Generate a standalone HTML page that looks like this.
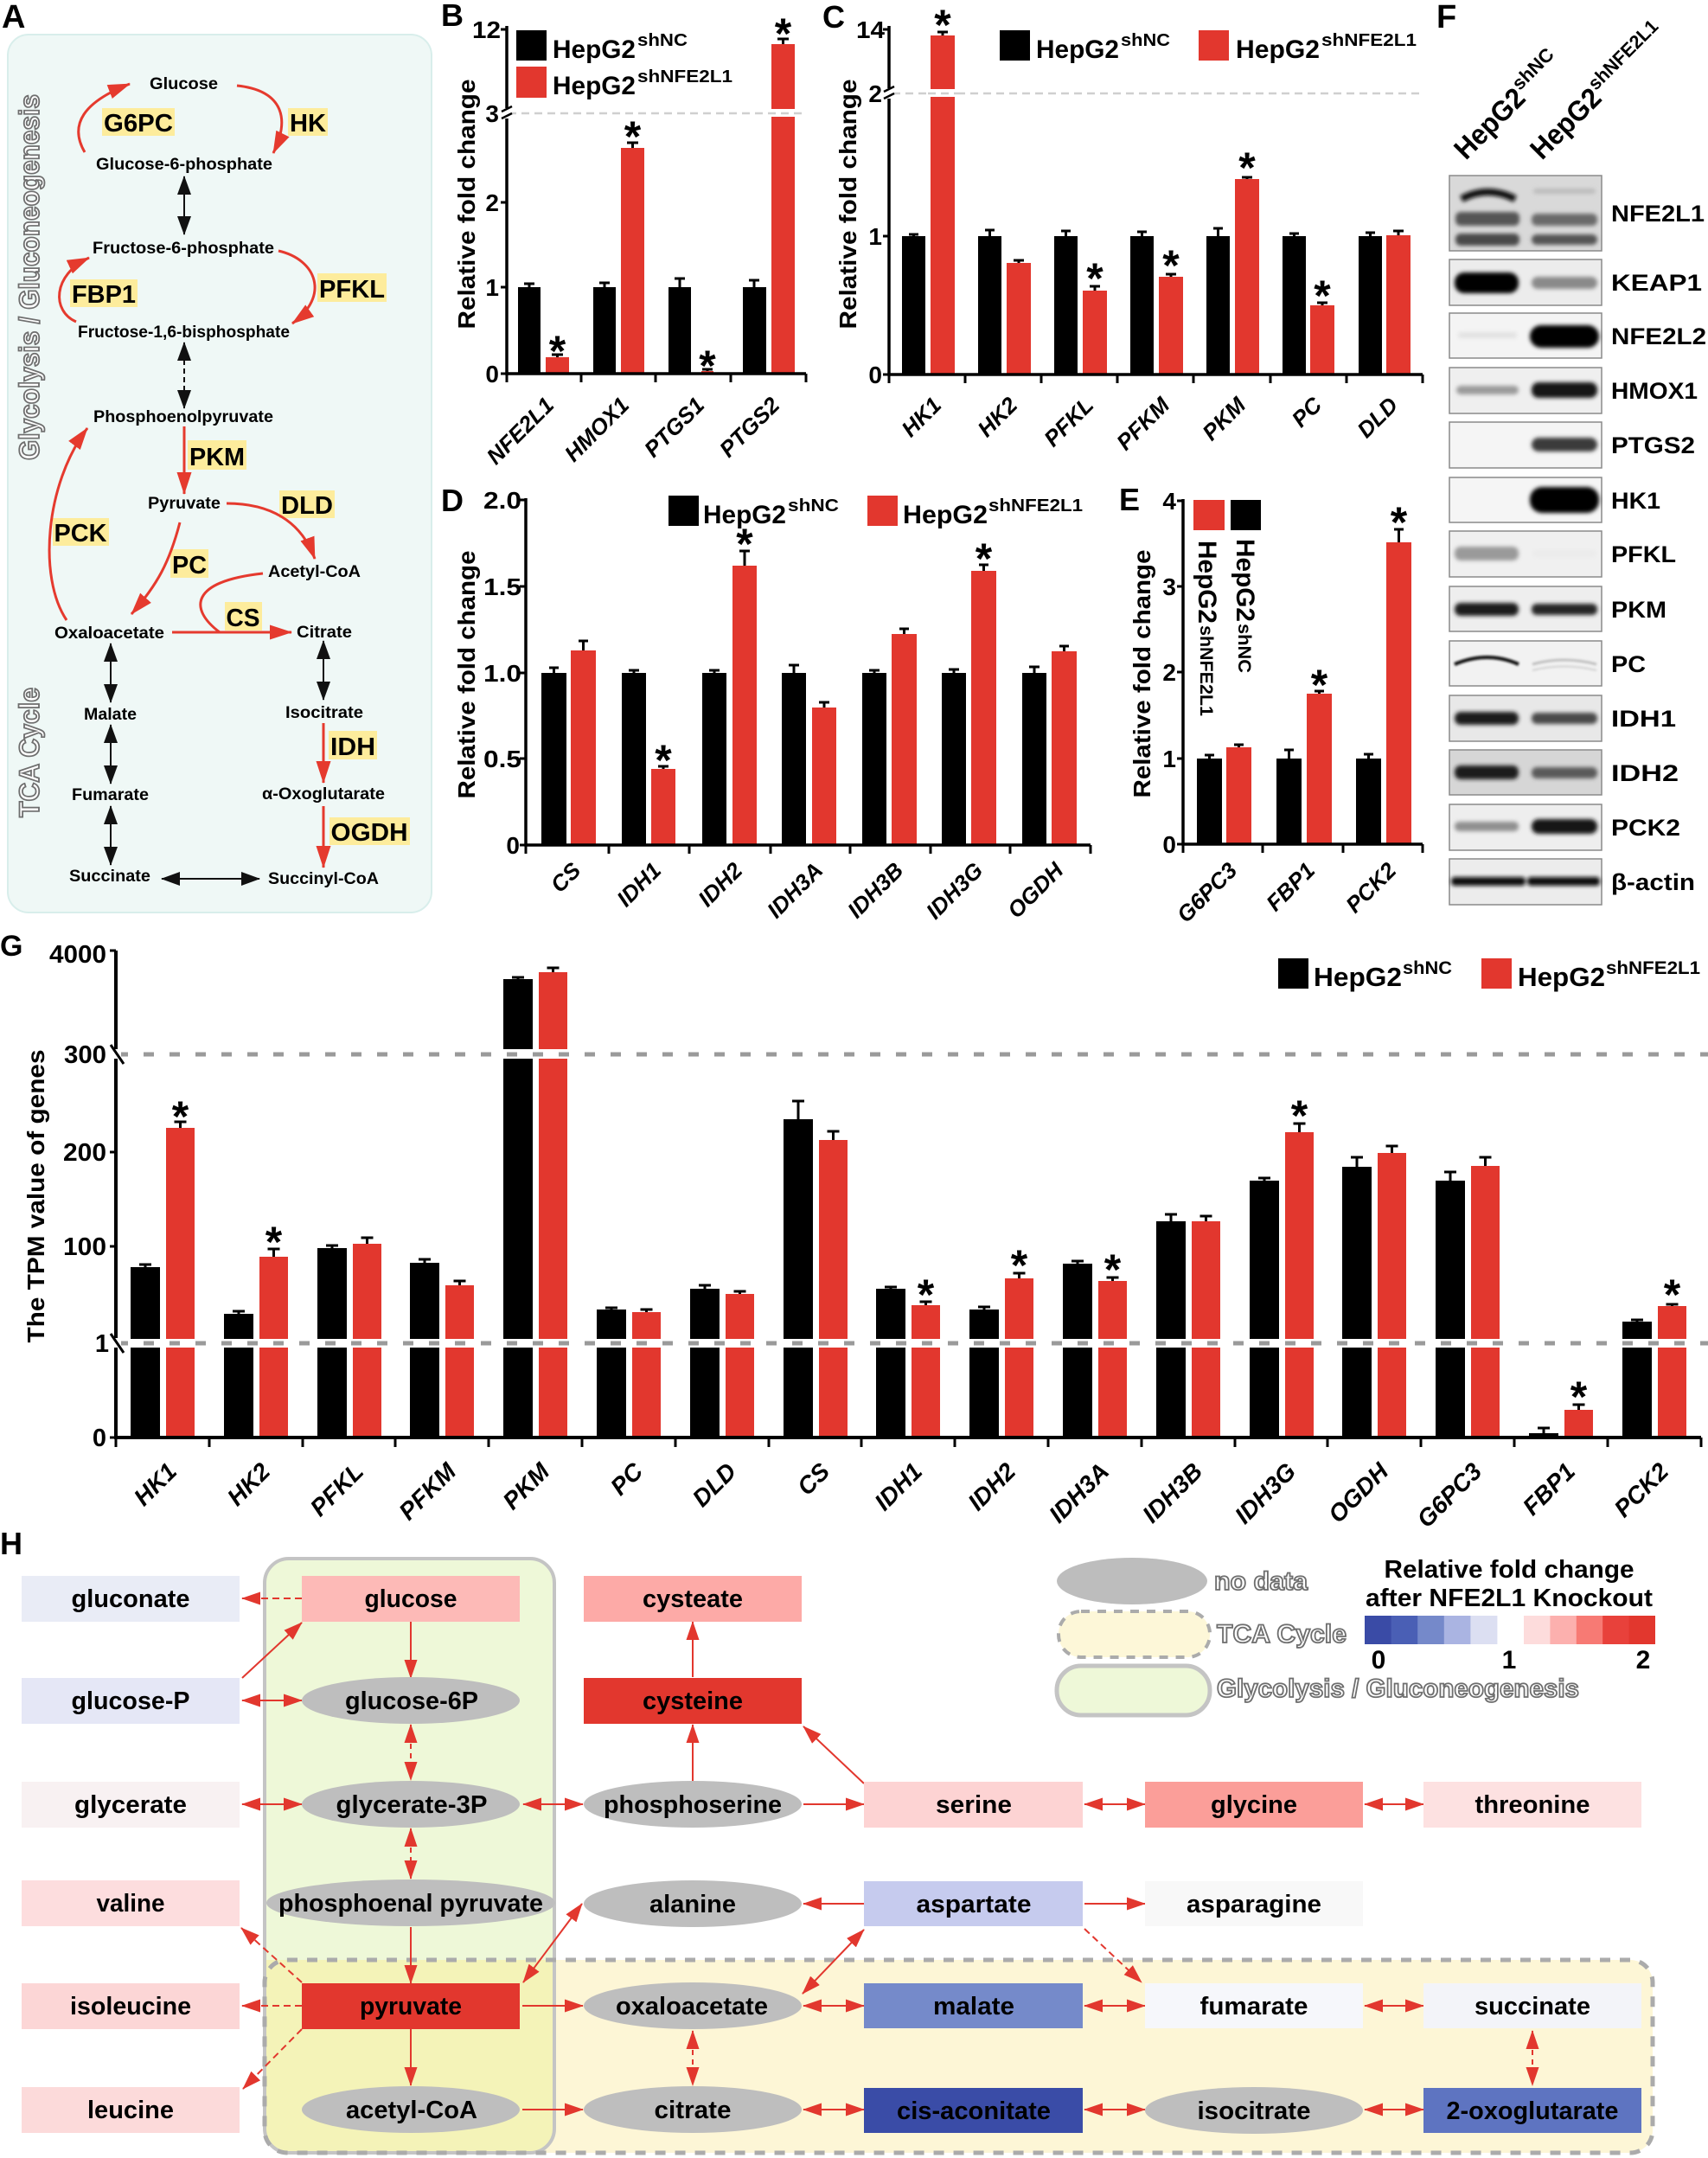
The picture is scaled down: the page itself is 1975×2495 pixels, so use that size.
<!DOCTYPE html>
<html><head><meta charset="utf-8">
<style>
html,body{margin:0;padding:0;background:#fff;}
svg{display:block;}
text{font-family:"Liberation Sans",Arial,sans-serif;font-weight:bold;fill:#000;}
.it{font-style:italic;}
.ol{fill:#fff;stroke:#6e6e6e;stroke-width:1.8;}
</style></head><body>
<svg width="1975" height="2495" viewBox="0 0 1975 2495" xmlns="http://www.w3.org/2000/svg">
<defs>
<marker id="hr" viewBox="0 0 22 15" refX="21" refY="7.5" markerWidth="22" markerHeight="15" markerUnits="userSpaceOnUse" orient="auto-start-reverse"><path d="M0,0 L22,7.5 L0,15 z" fill="#e2372e"/></marker>
<marker id="ar" viewBox="0 0 26 17" refX="25" refY="8.5" markerWidth="26" markerHeight="17" markerUnits="userSpaceOnUse" orient="auto-start-reverse"><path d="M0,0 L26,8.5 L0,17 z" fill="#e53a2e"/></marker>
<marker id="ab" viewBox="0 0 22 16" refX="21" refY="8" markerWidth="22" markerHeight="16" markerUnits="userSpaceOnUse" orient="auto-start-reverse"><path d="M0,0 L22,8 L0,16 z" fill="#111"/></marker>
<filter id="bl" x="-20%" y="-80%" width="140%" height="260%"><feGaussianBlur stdDeviation="2.5"/></filter>
<filter id="bl2" x="-20%" y="-80%" width="140%" height="260%"><feGaussianBlur stdDeviation="1.2"/></filter>
</defs>
<rect width="1975" height="2495" fill="#fff"/>

<!-- ================= PANEL A ================= -->
<rect x="9" y="40" width="490" height="1015" rx="24" fill="#eff8f6" stroke="#d8eeeb" stroke-width="2"/>
<text x="2" y="32" font-size="38">A</text>
<text class="ol" transform="translate(45,532) rotate(-90)" font-size="32" textLength="423" lengthAdjust="spacingAndGlyphs">Glycolysis / Gluconeogenesis</text>
<text class="ol" transform="translate(45,945) rotate(-90)" font-size="32" textLength="150" lengthAdjust="spacingAndGlyphs">TCA Cycle</text>

<g font-size="19">
<text x="173" y="103" textLength="79" lengthAdjust="spacingAndGlyphs">Glucose</text>
<text x="111" y="196" textLength="204" lengthAdjust="spacingAndGlyphs">Glucose-6-phosphate</text>
<text x="107" y="293" textLength="210" lengthAdjust="spacingAndGlyphs">Fructose-6-phosphate</text>
<text x="90" y="390" textLength="245" lengthAdjust="spacingAndGlyphs">Fructose-1,6-bisphosphate</text>
<text x="108" y="488" textLength="208" lengthAdjust="spacingAndGlyphs">Phosphoenolpyruvate</text>
<text x="171" y="588" textLength="84" lengthAdjust="spacingAndGlyphs">Pyruvate</text>
<text x="310" y="667" textLength="107" lengthAdjust="spacingAndGlyphs">Acetyl-CoA</text>
<text x="63" y="738" textLength="127" lengthAdjust="spacingAndGlyphs">Oxaloacetate</text>
<text x="343" y="737" textLength="64" lengthAdjust="spacingAndGlyphs">Citrate</text>
<text x="97" y="832" textLength="61" lengthAdjust="spacingAndGlyphs">Malate</text>
<text x="330" y="830" textLength="90" lengthAdjust="spacingAndGlyphs">Isocitrate</text>
<text x="83" y="925" textLength="89" lengthAdjust="spacingAndGlyphs">Fumarate</text>
<text x="303" y="924" textLength="142" lengthAdjust="spacingAndGlyphs">α-Oxoglutarate</text>
<text x="80" y="1019" textLength="94" lengthAdjust="spacingAndGlyphs">Succinate</text>
<text x="310" y="1022" textLength="128" lengthAdjust="spacingAndGlyphs">Succinyl-CoA</text>
</g>

<g fill="#fdec9c">
<rect x="118" y="125" width="84" height="32"/>
<rect x="333" y="125" width="46" height="32"/>
<rect x="81" y="323" width="78" height="32"/>
<rect x="367" y="316" width="80" height="33"/>
<rect x="217" y="509" width="68" height="34"/>
<rect x="323" y="567" width="64" height="32"/>
<rect x="61" y="599" width="65" height="32"/>
<rect x="197" y="635" width="44" height="33"/>
<rect x="260" y="696" width="43" height="33"/>
<rect x="380" y="845" width="56" height="33"/>
<rect x="381" y="945" width="93" height="32"/>
</g>
<g font-size="29">
<text x="160" y="152" text-anchor="middle" textLength="80" lengthAdjust="spacingAndGlyphs">G6PC</text>
<text x="356" y="152" text-anchor="middle" textLength="42" lengthAdjust="spacingAndGlyphs">HK</text>
<text x="120" y="350" text-anchor="middle" textLength="74" lengthAdjust="spacingAndGlyphs">FBP1</text>
<text x="407" y="344" text-anchor="middle" textLength="76" lengthAdjust="spacingAndGlyphs">PFKL</text>
<text x="251" y="538" text-anchor="middle" textLength="64" lengthAdjust="spacingAndGlyphs">PKM</text>
<text x="355" y="594" text-anchor="middle" textLength="60" lengthAdjust="spacingAndGlyphs">DLD</text>
<text x="93" y="626" text-anchor="middle" textLength="61" lengthAdjust="spacingAndGlyphs">PCK</text>
<text x="219" y="663" text-anchor="middle" textLength="40" lengthAdjust="spacingAndGlyphs">PC</text>
<text x="281" y="724" text-anchor="middle" textLength="39" lengthAdjust="spacingAndGlyphs">CS</text>
<text x="408" y="873" text-anchor="middle" textLength="52" lengthAdjust="spacingAndGlyphs">IDH</text>
<text x="427" y="972" text-anchor="middle" textLength="89" lengthAdjust="spacingAndGlyphs">OGDH</text>
</g>

<g fill="none" stroke="#e53a2e" stroke-width="3">
<path d="M98 176 Q70 128 150 97" marker-end="url(#ar)"/>
<path d="M274 99 C322 104 338 132 316 177" marker-end="url(#ar)"/>
<path d="M88 372 C60 360 60 318 103 298" marker-end="url(#ar)"/>
<path d="M322 290 C366 300 382 342 338 374" marker-end="url(#ar)"/>
<path d="M213 493 L213 571" marker-end="url(#ar)"/>
<path d="M262 582 C312 582 348 602 364 646" marker-end="url(#ar)"/>
<path d="M208 604 C196 650 182 676 152 710" marker-end="url(#ar)"/>
<path d="M77 717 C44 668 52 560 101 495" marker-end="url(#ar)"/>
<path d="M199 731 L337 731" marker-end="url(#ar)"/>
<path d="M304 663 C220 672 218 704 254 731"/>
<path d="M374 836 L374 905" marker-end="url(#ar)"/>
<path d="M374 932 L374 1003" marker-end="url(#ar)"/>
</g>
<g fill="none" stroke="#111" stroke-width="2">
<path d="M213 204 L213 271" marker-start="url(#ab)" marker-end="url(#ab)"/>
<path d="M213 396 L213 472" marker-start="url(#ab)" marker-end="url(#ab)" stroke-dasharray="6 4"/>
<path d="M128 744 L128 812" marker-start="url(#ab)" marker-end="url(#ab)"/>
<path d="M128 838 L128 906" marker-start="url(#ab)" marker-end="url(#ab)"/>
<path d="M128 932 L128 1000" marker-start="url(#ab)" marker-end="url(#ab)"/>
<path d="M374 741 L374 809" marker-start="url(#ab)" marker-end="url(#ab)"/>
<path d="M187 1016 L300 1016" marker-start="url(#ab)" marker-end="url(#ab)"/>
</g>

<!-- ================= PANEL B ================= -->
<text x="510" y="30" font-size="36">B</text>
<line x1="588" y1="131" x2="932" y2="131" stroke="#cfcfcf" stroke-width="2.5" stroke-dasharray="9 6"/>
<g fill="#000">
<rect x="599" y="332" width="26" height="100"/>
<rect x="686" y="332" width="26" height="100"/>
<rect x="773" y="332" width="26" height="100"/>
<rect x="859" y="332" width="27" height="100"/>
</g>
<g fill="#e2372e">
<rect x="631" y="413" width="27" height="19"/>
<rect x="718" y="171" width="27" height="261"/>
<rect x="811" y="429" width="14" height="3"/>
<rect x="892" y="51" width="27" height="381"/>
</g>
<rect x="888" y="126" width="35" height="9" fill="#fff"/>
<line x1="888" y1="131" x2="923" y2="131" stroke="#cfcfcf" stroke-width="2.5" stroke-dasharray="9 6"/>
<g stroke="#000" stroke-width="3" fill="none">
<path d="M612 332V328M606 328H618"/>
<path d="M644.5 413V410M638 410H651"/>
<path d="M699 332V327M693 327H705"/>
<path d="M731.5 171V165M725 165H738"/>
<path d="M786 332V322M780 322H792"/>
<path d="M818 429V427M812 427H824"/>
<path d="M872 332V324M866 324H878"/>
<path d="M905.5 51V45M899 45H912"/>
</g>
<g font-size="50" text-anchor="middle">
<text x="644.5" y="423">*</text>
<text x="731.5" y="175">*</text>
<text x="818" y="440">*</text>
<text x="905.5" y="56">*</text>
</g>
<path d="M586 30 V432 H932" stroke="#000" stroke-width="3.5" fill="none"/>
<g stroke="#000" stroke-width="3">
<path d="M586 432V442M672 432V442M758 432V442M845 432V442M932 432V442"/>
<path d="M579 34H586M579 234H586M579 332H586M579 432H586"/>
</g>
<rect x="581" y="125" width="10" height="12" fill="#fff"/>
<path d="M580 129L592 123M580 137L592 131" stroke="#000" stroke-width="2.5"/>
<g font-size="28" text-anchor="end">
<text x="579" y="44" textLength="33" lengthAdjust="spacingAndGlyphs">12</text>
<text x="577" y="141">3</text>
<text x="577" y="244">2</text>
<text x="577" y="342">1</text>
<text x="577" y="442">0</text>
</g>
<text transform="translate(549,236) rotate(-90)" font-size="28" text-anchor="middle" textLength="289" lengthAdjust="spacingAndGlyphs">Relative fold change</text>
<rect x="597" y="35" width="35" height="35" fill="#000"/>
<rect x="597" y="77" width="35" height="36" fill="#e2372e"/>
<text x="639" y="67" font-size="30" textLength="96" lengthAdjust="spacingAndGlyphs">HepG2</text>
<text x="737" y="53" font-size="20" textLength="58" lengthAdjust="spacingAndGlyphs">shNC</text>
<text x="639" y="109" font-size="30" textLength="96" lengthAdjust="spacingAndGlyphs">HepG2</text>
<text x="737" y="95" font-size="20" textLength="110" lengthAdjust="spacingAndGlyphs">shNFE2L1</text>
<g font-size="26" class="it" text-anchor="end">
<text transform="translate(642,470) rotate(-45)">NFE2L1</text>
<text transform="translate(729,470) rotate(-45)">HMOX1</text>
<text transform="translate(816,470) rotate(-45)">PTGS1</text>
<text transform="translate(903,470) rotate(-45)">PTGS2</text>
</g>

<!-- ================= PANEL C ================= -->
<text x="951" y="32" font-size="36">C</text>
<line x1="1032" y1="108" x2="1645" y2="108" stroke="#cfcfcf" stroke-width="2.5" stroke-dasharray="9 6"/>
<g fill="#000">
<rect x="1043" y="273" width="27" height="160"/>
<rect x="1131" y="273" width="27" height="160"/>
<rect x="1219" y="273" width="27" height="160"/>
<rect x="1307" y="273" width="27" height="160"/>
<rect x="1395" y="273" width="27" height="160"/>
<rect x="1483" y="273" width="27" height="160"/>
<rect x="1571" y="273" width="27" height="160"/>
</g>
<g fill="#e2372e">
<rect x="1076" y="41" width="28" height="392"/>
<rect x="1164" y="304" width="28" height="129"/>
<rect x="1252" y="336" width="28" height="97"/>
<rect x="1340" y="320" width="28" height="113"/>
<rect x="1428" y="207" width="28" height="226"/>
<rect x="1515" y="353" width="28" height="80"/>
<rect x="1603" y="272" width="28" height="161"/>
</g>
<rect x="1073" y="103" width="34" height="9" fill="#fff"/>
<line x1="1073" y1="108" x2="1107" y2="108" stroke="#cfcfcf" stroke-width="2.5" stroke-dasharray="9 6"/>
<g stroke="#000" stroke-width="3" fill="none">
<path d="M1056.5 273V271M1051 271H1062"/>
<path d="M1090 41V37M1084 37H1096"/>
<path d="M1144.5 273V266M1139 266H1150"/>
<path d="M1178 304V301M1172 301H1184"/>
<path d="M1232.5 273V267M1227 267H1238"/>
<path d="M1266 336V331M1260 331H1272"/>
<path d="M1320.5 273V268M1315 268H1326"/>
<path d="M1354 320V317M1348 317H1360"/>
<path d="M1408.5 273V264M1403 264H1414"/>
<path d="M1442 207V205M1436 205H1448"/>
<path d="M1496.5 273V270M1491 270H1502"/>
<path d="M1529 353V350M1523 350H1535"/>
<path d="M1584.5 273V269M1579 269H1590"/>
<path d="M1617 272V267M1611 267H1623"/>
</g>
<g font-size="50" text-anchor="middle">
<text x="1090" y="46">*</text>
<text x="1266" y="339">*</text>
<text x="1354" y="324">*</text>
<text x="1442" y="211">*</text>
<text x="1529" y="359">*</text>
</g>
<path d="M1028 30 V433 H1645" stroke="#000" stroke-width="3.5" fill="none"/>
<g stroke="#000" stroke-width="3">
<path d="M1028 433V443M1116 433V443M1204 433V443M1292 433V443M1380 433V443M1469 433V443M1557 433V443M1645 433V443"/>
<path d="M1021 34H1028M1021 273H1028M1021 433H1028"/>
</g>
<rect x="1023" y="102" width="10" height="12" fill="#fff"/>
<path d="M1022 106L1034 100M1022 114L1034 108" stroke="#000" stroke-width="2.5"/>
<g font-size="28" text-anchor="end">
<text x="1023" y="44" textLength="33" lengthAdjust="spacingAndGlyphs">14</text>
<text x="1020" y="118">2</text>
<text x="1020" y="283">1</text>
<text x="1020" y="443">0</text>
</g>
<text transform="translate(990,236) rotate(-90)" font-size="28" text-anchor="middle" textLength="289" lengthAdjust="spacingAndGlyphs">Relative fold change</text>
<rect x="1156" y="35" width="35" height="35" fill="#000"/>
<rect x="1386" y="35" width="35" height="35" fill="#e2372e"/>
<text x="1198" y="67" font-size="30" textLength="96" lengthAdjust="spacingAndGlyphs">HepG2</text>
<text x="1296" y="53" font-size="20" textLength="57" lengthAdjust="spacingAndGlyphs">shNC</text>
<text x="1429" y="67" font-size="30" textLength="97" lengthAdjust="spacingAndGlyphs">HepG2</text>
<text x="1528" y="53" font-size="20" textLength="110" lengthAdjust="spacingAndGlyphs">shNFE2L1</text>
<g font-size="26" class="it" text-anchor="end">
<text transform="translate(1090,470) rotate(-45)">HK1</text>
<text transform="translate(1178,470) rotate(-45)">HK2</text>
<text transform="translate(1266,470) rotate(-45)">PFKL</text>
<text transform="translate(1354,470) rotate(-45)">PFKM</text>
<text transform="translate(1442,470) rotate(-45)">PKM</text>
<text transform="translate(1530,470) rotate(-45)">PC</text>
<text transform="translate(1618,470) rotate(-45)">DLD</text>
</g>

<!-- ================= PANEL D ================= -->
<text x="510" y="591" font-size="36">D</text>
<g fill="#000">
<rect x="626" y="778" width="29" height="199"/>
<rect x="719" y="778" width="28" height="199"/>
<rect x="812" y="778" width="28" height="199"/>
<rect x="904" y="778" width="28" height="199"/>
<rect x="997" y="778" width="28" height="199"/>
<rect x="1089" y="778" width="28" height="199"/>
<rect x="1182" y="778" width="28" height="199"/>
</g>
<g fill="#e2372e">
<rect x="660" y="752" width="29" height="225"/>
<rect x="753" y="889" width="28" height="88"/>
<rect x="847" y="654" width="28" height="323"/>
<rect x="939" y="818" width="28" height="159"/>
<rect x="1031" y="733" width="29" height="244"/>
<rect x="1123" y="660" width="29" height="317"/>
<rect x="1216" y="753" width="29" height="224"/>
</g>
<g stroke="#000" stroke-width="3" fill="none">
<path d="M640.5 778V772M635 772H646"/>
<path d="M674.5 752V741M669 741H680"/>
<path d="M733 778V775M727 775H739"/>
<path d="M767 889V886M761 886H773"/>
<path d="M826 778V775M820 775H832"/>
<path d="M861 654V637M855 637H867"/>
<path d="M918 778V769M912 769H924"/>
<path d="M953 818V812M947 812H959"/>
<path d="M1011 778V775M1005 775H1017"/>
<path d="M1045.5 733V727M1040 727H1051"/>
<path d="M1103 778V774M1097 774H1109"/>
<path d="M1137.5 660V653M1132 653H1143"/>
<path d="M1196 778V771M1190 771H1202"/>
<path d="M1230.5 753V747M1225 747H1236"/>
</g>
<g font-size="50" text-anchor="middle">
<text x="767" y="896">*</text>
<text x="861" y="646">*</text>
<text x="1137.5" y="663">*</text>
</g>
<path d="M608 576 V977 H1261" stroke="#000" stroke-width="3.5" fill="none"/>
<g stroke="#000" stroke-width="3">
<path d="M608 977V987M704 977V987M797 977V987M891 977V987M983 977V987M1076 977V987M1168 977V987M1261 977V987"/>
<path d="M601 578H608M601 678H608M601 778H608M601 877H608M601 977H608"/>
</g>
<g font-size="28" text-anchor="end">
<text x="603" y="588" textLength="44" lengthAdjust="spacingAndGlyphs">2.0</text>
<text x="603" y="688" textLength="44" lengthAdjust="spacingAndGlyphs">1.5</text>
<text x="603" y="788" textLength="44" lengthAdjust="spacingAndGlyphs">1.0</text>
<text x="603" y="887" textLength="44" lengthAdjust="spacingAndGlyphs">0.5</text>
<text x="601" y="987">0</text>
</g>
<text transform="translate(549,780) rotate(-90)" font-size="28" text-anchor="middle" textLength="287" lengthAdjust="spacingAndGlyphs">Relative fold change</text>
<rect x="773" y="573" width="35" height="35" fill="#000"/>
<rect x="1003" y="573" width="35" height="35" fill="#e2372e"/>
<text x="813" y="605" font-size="30" textLength="96" lengthAdjust="spacingAndGlyphs">HepG2</text>
<text x="911" y="591" font-size="20" textLength="59" lengthAdjust="spacingAndGlyphs">shNC</text>
<text x="1044" y="605" font-size="30" textLength="98" lengthAdjust="spacingAndGlyphs">HepG2</text>
<text x="1143" y="591" font-size="20" textLength="109" lengthAdjust="spacingAndGlyphs">shNFE2L1</text>
<g font-size="26" class="it" text-anchor="end">
<text transform="translate(673,1008) rotate(-45)">CS</text>
<text transform="translate(766,1008) rotate(-45)">IDH1</text>
<text transform="translate(860,1008) rotate(-45)">IDH2</text>
<text transform="translate(953,1008) rotate(-45)">IDH3A</text>
<text transform="translate(1046,1008) rotate(-45)">IDH3B</text>
<text transform="translate(1138,1008) rotate(-45)">IDH3G</text>
<text transform="translate(1231,1008) rotate(-45)">OGDH</text>
</g>

<!-- ================= PANEL E ================= -->
<text x="1294" y="590" font-size="36">E</text>
<g fill="#000">
<rect x="1384" y="877" width="29" height="99"/>
<rect x="1476" y="877" width="29" height="99"/>
<rect x="1568" y="877" width="29" height="99"/>
</g>
<g fill="#e2372e">
<rect x="1418" y="864" width="29" height="112"/>
<rect x="1511" y="802" width="29" height="174"/>
<rect x="1603" y="627" width="29" height="349"/>
</g>
<g stroke="#000" stroke-width="3" fill="none">
<path d="M1398.5 877V873M1393 873H1404"/>
<path d="M1432.5 864V861M1427 861H1438"/>
<path d="M1490.5 877V867M1485 867H1496"/>
<path d="M1525.5 802V799M1520 799H1531"/>
<path d="M1582.5 877V872M1577 872H1588"/>
<path d="M1617.5 627V612M1612 612H1623"/>
</g>
<g font-size="50" text-anchor="middle">
<text x="1525.5" y="809">*</text>
<text x="1617.5" y="621">*</text>
</g>
<path d="M1368 577 V976 H1645" stroke="#000" stroke-width="3.5" fill="none"/>
<g stroke="#000" stroke-width="3">
<path d="M1368 976V986M1460 976V986M1553 976V986M1645 976V986"/>
<path d="M1361 579H1368M1361 678H1368M1361 777H1368M1361 877H1368M1361 976H1368"/>
</g>
<g font-size="28" text-anchor="end">
<text x="1360" y="589">4</text>
<text x="1360" y="688">3</text>
<text x="1360" y="787">2</text>
<text x="1360" y="887">1</text>
<text x="1360" y="986">0</text>
</g>
<text transform="translate(1330,779) rotate(-90)" font-size="28" text-anchor="middle" textLength="287" lengthAdjust="spacingAndGlyphs">Relative fold change</text>
<rect x="1380" y="578" width="36" height="35" fill="#e2372e"/>
<rect x="1423" y="578" width="35" height="35" fill="#000"/>
<g transform="translate(1430,623) rotate(90)">
<text x="0" y="0" font-size="30" textLength="96" lengthAdjust="spacingAndGlyphs">HepG2</text>
<text x="98" y="-2" font-size="21" textLength="57" lengthAdjust="spacingAndGlyphs">shNC</text>
</g>
<g transform="translate(1386,625) rotate(90)">
<text x="0" y="0" font-size="30" textLength="96" lengthAdjust="spacingAndGlyphs">HepG2</text>
<text x="98" y="-2" font-size="21" textLength="105" lengthAdjust="spacingAndGlyphs">shNFE2L1</text>
</g>
<g font-size="26" class="it" text-anchor="end">
<text transform="translate(1432,1008) rotate(-45)">G6PC3</text>
<text transform="translate(1522,1008) rotate(-45)">FBP1</text>
<text transform="translate(1616,1008) rotate(-45)">PCK2</text>
</g>

<!-- ================= PANEL F ================= -->
<text x="1661" y="32" font-size="38">F</text>
<g transform="translate(1695,186) rotate(-45)">
<text x="0" y="0" font-size="33" textLength="100" lengthAdjust="spacingAndGlyphs">HepG2</text>
<text x="101" y="-13" font-size="22" textLength="58" lengthAdjust="spacingAndGlyphs">shNC</text>
</g>
<g transform="translate(1783,186) rotate(-45)">
<text x="0" y="0" font-size="33" textLength="100" lengthAdjust="spacingAndGlyphs">HepG2</text>
<text x="101" y="-13" font-size="22" textLength="104" lengthAdjust="spacingAndGlyphs">shNFE2L1</text>
</g>
<g stroke="#8a8a8a" stroke-width="1.5">
<rect x="1676" y="203" width="176" height="87" fill="#d9d9d9"/>
<rect x="1676" y="300" width="176" height="53" fill="#ececec"/>
<rect x="1676" y="362" width="176" height="52" fill="#f4f4f4"/>
<rect x="1676" y="425" width="176" height="53" fill="#efefef"/>
<rect x="1676" y="488" width="176" height="53" fill="#f5f5f5"/>
<rect x="1676" y="552" width="176" height="52" fill="#f5f5f5"/>
<rect x="1676" y="614" width="176" height="53" fill="#f0f0f0"/>
<rect x="1676" y="678" width="176" height="52" fill="#eeeeee"/>
<rect x="1676" y="741" width="176" height="52" fill="#f2f2f2"/>
<rect x="1676" y="804" width="176" height="53" fill="#e8e8e8"/>
<rect x="1676" y="867" width="176" height="52" fill="#d6d6d6"/>
<rect x="1676" y="930" width="176" height="53" fill="#eeeeee"/>
<rect x="1676" y="993" width="176" height="53" fill="#ececec"/>
</g>
<g filter="url(#bl)">
<path d="M1690 230 Q1720 214 1752 230" stroke="#111" stroke-width="8" fill="none"/>
<rect x="1683" y="245" width="74" height="16" rx="6" fill="#555"/>
<rect x="1683" y="270" width="74" height="14" rx="6" fill="#4a4a4a"/>
<rect x="1773" y="218" width="72" height="6" rx="3" fill="#bcbcbc"/>
<rect x="1771" y="247" width="76" height="14" rx="6" fill="#6a6a6a"/>
<rect x="1771" y="271" width="76" height="12" rx="6" fill="#555"/>
<rect x="1682" y="315" width="74" height="24" rx="11" fill="#050505"/>
<rect x="1771" y="320" width="76" height="14" rx="7" fill="#8a8a8a"/>
<rect x="1686" y="384" width="68" height="7" rx="3" fill="#e2e2e2"/>
<rect x="1769" y="376" width="80" height="26" rx="13" fill="#000"/>
<rect x="1684" y="446" width="72" height="10" rx="5" fill="#9a9a9a"/>
<rect x="1771" y="442" width="76" height="18" rx="8" fill="#151515"/>
<rect x="1771" y="506" width="76" height="16" rx="8" fill="#3a3a3a"/>
<rect x="1769" y="563" width="80" height="30" rx="14" fill="#000"/>
<rect x="1682" y="632" width="74" height="16" rx="7" fill="#9a9a9a"/>
<rect x="1772" y="636" width="74" height="8" rx="4" fill="#ebebeb"/>
<rect x="1682" y="697" width="74" height="15" rx="7" fill="#1a1a1a"/>
<rect x="1771" y="698" width="76" height="13" rx="6" fill="#262626"/>
<rect x="1682" y="823" width="74" height="15" rx="7" fill="#1a1a1a"/>
<rect x="1771" y="824" width="76" height="13" rx="6" fill="#4a4a4a"/>
<rect x="1682" y="885" width="74" height="16" rx="7" fill="#1a1a1a"/>
<rect x="1771" y="887" width="76" height="13" rx="6" fill="#5a5a5a"/>
<rect x="1682" y="950" width="74" height="11" rx="5" fill="#8f8f8f"/>
<rect x="1771" y="947" width="76" height="17" rx="8" fill="#161616"/>
<rect x="1678" y="1014" width="86" height="10" rx="4" fill="#111"/>
<rect x="1766" y="1014" width="84" height="10" rx="4" fill="#111"/>
</g>
<g filter="url(#bl2)" fill="none">
<path d="M1682 768 Q1720 752 1756 768" stroke="#111" stroke-width="4"/>
<path d="M1772 768 Q1808 758 1846 768" stroke="#c0c0c0" stroke-width="3"/>
<path d="M1772 775 Q1808 766 1846 775" stroke="#d0d0d0" stroke-width="2"/>
</g>
<g font-size="27">
<text x="1863" y="256" textLength="108" lengthAdjust="spacingAndGlyphs">NFE2L1</text>
<text x="1863" y="336" textLength="105" lengthAdjust="spacingAndGlyphs">KEAP1</text>
<text x="1863" y="398" textLength="110" lengthAdjust="spacingAndGlyphs">NFE2L2</text>
<text x="1863" y="461" textLength="100" lengthAdjust="spacingAndGlyphs">HMOX1</text>
<text x="1863" y="524" textLength="97" lengthAdjust="spacingAndGlyphs">PTGS2</text>
<text x="1863" y="588" textLength="57" lengthAdjust="spacingAndGlyphs">HK1</text>
<text x="1863" y="650" textLength="75" lengthAdjust="spacingAndGlyphs">PFKL</text>
<text x="1863" y="714" textLength="64" lengthAdjust="spacingAndGlyphs">PKM</text>
<text x="1863" y="777" textLength="40" lengthAdjust="spacingAndGlyphs">PC</text>
<text x="1863" y="840" textLength="75" lengthAdjust="spacingAndGlyphs">IDH1</text>
<text x="1863" y="903" textLength="78" lengthAdjust="spacingAndGlyphs">IDH2</text>
<text x="1863" y="966" textLength="80" lengthAdjust="spacingAndGlyphs">PCK2</text>
<text x="1863" y="1029" textLength="97" lengthAdjust="spacingAndGlyphs">β-actin</text>
</g>

<!-- ================= PANEL G ================= -->
<text x="0" y="1105" font-size="34">G</text>
<g fill="#000">
<rect x="151" y="1465" width="34" height="197"/>
<rect x="259" y="1519" width="34" height="143"/>
<rect x="367" y="1443" width="34" height="219"/>
<rect x="474" y="1460" width="34" height="202"/>
<rect x="582" y="1132" width="34" height="530"/>
<rect x="690" y="1514" width="34" height="148"/>
<rect x="798" y="1490" width="34" height="172"/>
<rect x="906" y="1294" width="34" height="368"/>
<rect x="1013" y="1490" width="34" height="172"/>
<rect x="1121" y="1514" width="34" height="148"/>
<rect x="1229" y="1461" width="34" height="201"/>
<rect x="1337" y="1412" width="34" height="250"/>
<rect x="1445" y="1365" width="34" height="297"/>
<rect x="1552" y="1349" width="34" height="313"/>
<rect x="1660" y="1365" width="34" height="297"/>
<rect x="1768" y="1657" width="34" height="5"/>
<rect x="1876" y="1528" width="34" height="134"/>
</g>
<g fill="#e2372e">
<rect x="192" y="1304" width="33" height="358"/>
<rect x="300" y="1453" width="33" height="209"/>
<rect x="408" y="1438" width="33" height="224"/>
<rect x="515" y="1486" width="33" height="176"/>
<rect x="623" y="1124" width="33" height="538"/>
<rect x="731" y="1517" width="33" height="145"/>
<rect x="839" y="1496" width="33" height="166"/>
<rect x="947" y="1318" width="33" height="344"/>
<rect x="1054" y="1509" width="33" height="153"/>
<rect x="1162" y="1478" width="33" height="184"/>
<rect x="1270" y="1481" width="33" height="181"/>
<rect x="1378" y="1412" width="33" height="250"/>
<rect x="1486" y="1309" width="33" height="353"/>
<rect x="1593" y="1333" width="33" height="329"/>
<rect x="1701" y="1348" width="33" height="314"/>
<rect x="1809" y="1630" width="33" height="32"/>
<rect x="1917" y="1510" width="33" height="152"/>
</g>
<rect x="140" y="1213" width="1835" height="11" fill="#fff"/>
<rect x="140" y="1548" width="1835" height="10" fill="#fff"/>
<line x1="136" y1="1219" x2="1975" y2="1219" stroke="#9a9a9a" stroke-width="5" stroke-dasharray="12 18"/>
<line x1="136" y1="1553" x2="1975" y2="1553" stroke="#9a9a9a" stroke-width="5" stroke-dasharray="12 18"/>
<g stroke="#000" stroke-width="3" fill="none">
<path d="M168 1465V1462M161 1462H175"/>
<path d="M208.5 1304V1297M201.5 1297H215.5"/>
<path d="M276 1519V1516M269 1516H283"/>
<path d="M316.5 1453V1444M309.5 1444H323.5"/>
<path d="M384 1443V1440M377 1440H391"/>
<path d="M424.5 1438V1431M417.5 1431H431.5"/>
<path d="M491 1460V1456M484 1456H498"/>
<path d="M531.5 1486V1481M524.5 1481H538.5"/>
<path d="M599 1132V1130M592 1130H606"/>
<path d="M639.5 1124V1119M632.5 1119H646.5"/>
<path d="M707 1514V1512M700 1512H714"/>
<path d="M747.5 1517V1514M740.5 1514H754.5"/>
<path d="M815 1490V1486M808 1486H822"/>
<path d="M855.5 1496V1493M848.5 1493H862.5"/>
<path d="M923 1294V1273M916 1273H930"/>
<path d="M963.5 1318V1308M956.5 1308H970.5"/>
<path d="M1030 1490V1488M1023 1488H1037"/>
<path d="M1070.5 1509V1505M1063.5 1505H1077.5"/>
<path d="M1138 1514V1511M1131 1511H1145"/>
<path d="M1178.5 1478V1472M1171.5 1472H1185.5"/>
<path d="M1246 1461V1458M1239 1458H1253"/>
<path d="M1286.5 1481V1477M1279.5 1477H1293.5"/>
<path d="M1354 1412V1404M1347 1404H1361"/>
<path d="M1394.5 1412V1406M1387.5 1406H1401.5"/>
<path d="M1462 1365V1362M1455 1362H1469"/>
<path d="M1502.5 1309V1299M1495.5 1299H1509.5"/>
<path d="M1569 1349V1338M1562 1338H1576"/>
<path d="M1609.5 1333V1325M1602.5 1325H1616.5"/>
<path d="M1677 1365V1355M1670 1355H1684"/>
<path d="M1717.5 1348V1338M1710.5 1338H1724.5"/>
<path d="M1785 1657V1651M1778 1651H1792"/>
<path d="M1825.5 1630V1624M1818.5 1624H1832.5"/>
<path d="M1893 1528V1526M1886 1526H1900"/>
<path d="M1933.5 1510V1508M1926.5 1508H1940.5"/>
</g>
<g font-size="50" text-anchor="middle">
<text x="208.5" y="1308">*</text>
<text x="316.5" y="1453">*</text>
<text x="1070.5" y="1514">*</text>
<text x="1178.5" y="1480">*</text>
<text x="1286.5" y="1485">*</text>
<text x="1502.5" y="1307">*</text>
<text x="1825.5" y="1632">*</text>
<text x="1933.5" y="1514">*</text>
</g>
<path d="M134 1099 V1662 H1967" stroke="#000" stroke-width="4" fill="none"/>
<rect x="129" y="1213" width="11" height="11" fill="#fff"/>
<rect x="129" y="1547" width="11" height="11" fill="#fff"/>
<path d="M128 1208L143 1230M128 1542L143 1564" stroke="#000" stroke-width="3"/>
<g stroke="#000" stroke-width="3">
<path d="M127 1099H134M127 1332H134M127 1441H134M127 1662H134"/>
<path d="M134 1662V1673M242 1662V1673M350 1662V1673M457 1662V1673M565 1662V1673M673 1662V1673M781 1662V1673M889 1662V1673M996 1662V1673M1104 1662V1673M1212 1662V1673M1320 1662V1673M1428 1662V1673M1535 1662V1673M1643 1662V1673M1751 1662V1673M1859 1662V1673M1967 1662V1673"/>
</g>
<g font-size="29" text-anchor="end">
<text x="123" y="1113" textLength="66" lengthAdjust="spacingAndGlyphs">4000</text>
<text x="123" y="1229" textLength="49" lengthAdjust="spacingAndGlyphs">300</text>
<text x="123" y="1342" textLength="50" lengthAdjust="spacingAndGlyphs">200</text>
<text x="123" y="1451" textLength="50" lengthAdjust="spacingAndGlyphs">100</text>
<text x="126" y="1563">1</text>
<text x="123" y="1672">0</text>
</g>
<text transform="translate(51,1383) rotate(-90)" font-size="28" text-anchor="middle" textLength="339" lengthAdjust="spacingAndGlyphs">The TPM value of genes</text>
<rect x="1478" y="1108" width="35" height="35" fill="#000"/>
<rect x="1713" y="1108" width="35" height="35" fill="#e2372e"/>
<text x="1519" y="1140" font-size="31" textLength="102" lengthAdjust="spacingAndGlyphs">HepG2</text>
<text x="1622" y="1126" font-size="21" textLength="57" lengthAdjust="spacingAndGlyphs">shNC</text>
<text x="1755" y="1140" font-size="31" textLength="101" lengthAdjust="spacingAndGlyphs">HepG2</text>
<text x="1857" y="1126" font-size="21" textLength="109" lengthAdjust="spacingAndGlyphs">shNFE2L1</text>
<g font-size="28" class="it" text-anchor="end">
<text transform="translate(206,1703) rotate(-45)">HK1</text>
<text transform="translate(314,1703) rotate(-45)">HK2</text>
<text transform="translate(422,1703) rotate(-45)">PFKL</text>
<text transform="translate(529,1703) rotate(-45)">PFKM</text>
<text transform="translate(637,1703) rotate(-45)">PKM</text>
<text transform="translate(745,1703) rotate(-45)">PC</text>
<text transform="translate(853,1703) rotate(-45)">DLD</text>
<text transform="translate(961,1703) rotate(-45)">CS</text>
<text transform="translate(1068,1703) rotate(-45)">IDH1</text>
<text transform="translate(1176,1703) rotate(-45)">IDH2</text>
<text transform="translate(1284,1703) rotate(-45)">IDH3A</text>
<text transform="translate(1392,1703) rotate(-45)">IDH3B</text>
<text transform="translate(1500,1703) rotate(-45)">IDH3G</text>
<text transform="translate(1607,1703) rotate(-45)">OGDH</text>
<text transform="translate(1715,1703) rotate(-45)">G6PC3</text>
<text transform="translate(1823,1703) rotate(-45)">FBP1</text>
<text transform="translate(1931,1703) rotate(-45)">PCK2</text>
</g>

<!-- ================= PANEL H ================= -->
<text x="0" y="1797" font-size="36">H</text>
<rect x="306" y="2266" width="1605" height="223" rx="26" fill="#fdf6d6"/>
<rect x="306" y="1802" width="335" height="687" rx="28" fill="#eef8d8"/>
<path d="M306 2266 H641 V2461 Q641 2489 613 2489 H334 Q306 2489 306 2461 Z" fill="#f4f3b8"/>
<rect x="306" y="1802" width="335" height="687" rx="28" fill="none" stroke="#c4c4c4" stroke-width="4"/>
<rect x="306" y="2266" width="1605" height="223" rx="26" fill="none" stroke="#ababab" stroke-width="5" stroke-dasharray="12 11"/>

<ellipse cx="1309" cy="1828" rx="87" ry="27" fill="#bdbdbd"/>
<rect x="1224" y="1863" width="175" height="53" rx="26" fill="#fdf7d8" stroke="#ababab" stroke-width="4" stroke-dasharray="10 9"/>
<rect x="1222" y="1926" width="177" height="57" rx="28" fill="#eef8d8" stroke="#c4c4c4" stroke-width="5"/>
<g font-size="30">
<text class="ol" x="1404" y="1838" textLength="108" lengthAdjust="spacingAndGlyphs">no data</text>
<text class="ol" x="1407" y="1899" textLength="150" lengthAdjust="spacingAndGlyphs">TCA Cycle</text>
<text class="ol" x="1407" y="1962" textLength="419" lengthAdjust="spacingAndGlyphs">Glycolysis / Gluconeogenesis</text>
</g>
<text x="1745" y="1824" font-size="29" text-anchor="middle" textLength="289" lengthAdjust="spacingAndGlyphs">Relative fold change</text>
<text x="1745" y="1857" font-size="29" text-anchor="middle" textLength="332" lengthAdjust="spacingAndGlyphs">after NFE2L1 Knockout</text>
<rect x="1578" y="1868" width="31" height="33" fill="#3a4ba6"/>
<rect x="1608.6" y="1868" width="31" height="33" fill="#4a5fb5"/>
<rect x="1639.2" y="1868" width="31" height="33" fill="#7589ca"/>
<rect x="1669.8" y="1868" width="31" height="33" fill="#aab4e2"/>
<rect x="1700.4" y="1868" width="31" height="33" fill="#dcdff2"/>
<rect x="1762" y="1868" width="31" height="33" fill="#fddcdc"/>
<rect x="1792.4" y="1868" width="31" height="33" fill="#fcb0ae"/>
<rect x="1822.8" y="1868" width="31" height="33" fill="#f77a74"/>
<rect x="1853.2" y="1868" width="31" height="33" fill="#e8413b"/>
<rect x="1883.6" y="1868" width="30.4" height="33" fill="#e2372e"/>
<g font-size="30" text-anchor="middle">
<text x="1594" y="1929">0</text>
<text x="1745" y="1929">1</text>
<text x="1900" y="1929">2</text>
</g>

<g stroke="#e2372e" stroke-width="2" fill="none">
<line x1="349" y1="1848" x2="280" y2="1848" stroke-dasharray="8 5" marker-end="url(#hr)"/>
<line x1="280" y1="1940" x2="349" y2="1876" marker-end="url(#hr)"/>
<line x1="280" y1="1966" x2="349" y2="1966" marker-start="url(#hr)" marker-end="url(#hr)"/>
<line x1="475" y1="1875" x2="475" y2="1940" marker-end="url(#hr)"/>
<line x1="475" y1="1994" x2="475" y2="2058" stroke-dasharray="6 5" marker-start="url(#hr)" marker-end="url(#hr)"/>
<line x1="280" y1="2086" x2="349" y2="2086" marker-start="url(#hr)" marker-end="url(#hr)"/>
<line x1="605" y1="2086" x2="674" y2="2086" marker-start="url(#hr)" marker-end="url(#hr)"/>
<line x1="801" y1="2059" x2="801" y2="1994" marker-end="url(#hr)"/>
<line x1="801" y1="1939" x2="801" y2="1875" marker-end="url(#hr)"/>
<line x1="929" y1="2086" x2="999" y2="2086" marker-end="url(#hr)"/>
<line x1="999" y1="2062" x2="929" y2="1996" marker-end="url(#hr)"/>
<line x1="1254" y1="2086" x2="1324" y2="2086" marker-start="url(#hr)" marker-end="url(#hr)"/>
<line x1="1578" y1="2086" x2="1646" y2="2086" marker-start="url(#hr)" marker-end="url(#hr)"/>
<line x1="475" y1="2114" x2="475" y2="2172" stroke-dasharray="6 5" marker-start="url(#hr)" marker-end="url(#hr)"/>
<line x1="475" y1="2228" x2="475" y2="2293" marker-end="url(#hr)"/>
<line x1="349" y1="2292" x2="279" y2="2229" stroke-dasharray="8 5" marker-end="url(#hr)"/>
<line x1="349" y1="2319" x2="280" y2="2319" stroke-dasharray="8 5" marker-end="url(#hr)"/>
<line x1="349" y1="2346" x2="281" y2="2415" stroke-dasharray="8 5" marker-end="url(#hr)"/>
<line x1="605" y1="2292" x2="673" y2="2201" marker-start="url(#hr)" marker-end="url(#hr)"/>
<line x1="999" y1="2201" x2="929" y2="2201" marker-end="url(#hr)"/>
<line x1="999" y1="2231" x2="928" y2="2305" marker-start="url(#hr)" marker-end="url(#hr)"/>
<line x1="1254" y1="2201" x2="1324" y2="2201" marker-end="url(#hr)"/>
<line x1="1254" y1="2230" x2="1320" y2="2292" stroke-dasharray="8 5" marker-end="url(#hr)"/>
<line x1="604" y1="2319" x2="674" y2="2319" marker-end="url(#hr)"/>
<line x1="475" y1="2346" x2="475" y2="2411" marker-end="url(#hr)"/>
<line x1="604" y1="2439" x2="674" y2="2439" marker-end="url(#hr)"/>
<line x1="801" y1="2348" x2="801" y2="2411" stroke-dasharray="6 5" marker-start="url(#hr)" marker-end="url(#hr)"/>
<line x1="929" y1="2319" x2="999" y2="2319" marker-start="url(#hr)" marker-end="url(#hr)"/>
<line x1="1254" y1="2319" x2="1324" y2="2319" marker-start="url(#hr)" marker-end="url(#hr)"/>
<line x1="1578" y1="2319" x2="1646" y2="2319" marker-start="url(#hr)" marker-end="url(#hr)"/>
<line x1="1772" y1="2348" x2="1772" y2="2411" stroke-dasharray="6 5" marker-start="url(#hr)" marker-end="url(#hr)"/>
<line x1="929" y1="2439" x2="999" y2="2439" marker-start="url(#hr)" marker-end="url(#hr)"/>
<line x1="1254" y1="2439" x2="1324" y2="2439" marker-start="url(#hr)" marker-end="url(#hr)"/>
<line x1="1578" y1="2439" x2="1646" y2="2439" marker-start="url(#hr)" marker-end="url(#hr)"/>
</g>

<g>
<rect x="25" y="1822" width="252" height="53" fill="#e9ecf6"/>
<rect x="349" y="1822" width="252" height="53" fill="#fdbab7"/>
<rect x="675" y="1822" width="252" height="53" fill="#fdaaa7"/>
<rect x="25" y="1940" width="252" height="53" fill="#e5e7f6"/>
<ellipse cx="475" cy="1966" rx="126" ry="27" fill="#bebebe"/>
<rect x="675" y="1940" width="252" height="53" fill="#e2372e"/>
<rect x="25" y="2060" width="252" height="53" fill="#f8f1f2"/>
<ellipse cx="475" cy="2086" rx="126" ry="27" fill="#bebebe"/>
<ellipse cx="801" cy="2086" rx="126" ry="27" fill="#bebebe"/>
<rect x="999" y="2060" width="253" height="53" fill="#fdd3d3"/>
<rect x="1324" y="2060" width="252" height="53" fill="#fb9e99"/>
<rect x="1646" y="2060" width="252" height="53" fill="#fde1e1"/>
<rect x="25" y="2174" width="252" height="53" fill="#fdddde"/>
<ellipse cx="475" cy="2200" rx="167" ry="27" fill="#bebebe"/>
<ellipse cx="801" cy="2201" rx="126" ry="27" fill="#bebebe"/>
<rect x="999" y="2175" width="253" height="52" fill="#c6cbee"/>
<rect x="1324" y="2175" width="252" height="52" fill="#f8f8f8"/>
<rect x="25" y="2293" width="252" height="53" fill="#fcd6d6"/>
<rect x="349" y="2293" width="252" height="53" fill="#e2372e"/>
<ellipse cx="801" cy="2319" rx="126" ry="27" fill="#bebebe"/>
<rect x="999" y="2293" width="253" height="52" fill="#758aca"/>
<rect x="1324" y="2293" width="252" height="52" fill="#f6f7fb"/>
<rect x="1646" y="2293" width="252" height="52" fill="#f3f4f9"/>
<rect x="25" y="2413" width="252" height="53" fill="#fcdada"/>
<ellipse cx="475" cy="2439" rx="126" ry="27" fill="#bebebe"/>
<ellipse cx="801" cy="2439" rx="126" ry="27" fill="#bebebe"/>
<rect x="999" y="2414" width="253" height="52" fill="#3a4ca7"/>
<ellipse cx="1450" cy="2440" rx="126" ry="27" fill="#bebebe"/>
<rect x="1646" y="2414" width="252" height="52" fill="#5e74c1"/>
</g>
<g font-size="29" text-anchor="middle" fill="#111">
<text x="151" y="1858" textLength="137" lengthAdjust="spacingAndGlyphs">gluconate</text>
<text x="475" y="1858" textLength="107" lengthAdjust="spacingAndGlyphs">glucose</text>
<text x="801" y="1858" textLength="116" lengthAdjust="spacingAndGlyphs">cysteate</text>
<text x="151" y="1976" textLength="137" lengthAdjust="spacingAndGlyphs">glucose-P</text>
<text x="476" y="1976" textLength="154" lengthAdjust="spacingAndGlyphs">glucose-6P</text>
<text x="801" y="1976" textLength="116" lengthAdjust="spacingAndGlyphs">cysteine</text>
<text x="151" y="2096" textLength="130" lengthAdjust="spacingAndGlyphs">glycerate</text>
<text x="476" y="2096" textLength="175" lengthAdjust="spacingAndGlyphs">glycerate-3P</text>
<text x="801" y="2096" textLength="206" lengthAdjust="spacingAndGlyphs">phosphoserine</text>
<text x="1126" y="2096" textLength="88" lengthAdjust="spacingAndGlyphs">serine</text>
<text x="1450" y="2096" textLength="100" lengthAdjust="spacingAndGlyphs">glycine</text>
<text x="1772" y="2096" textLength="133" lengthAdjust="spacingAndGlyphs">threonine</text>
<text x="151" y="2210" textLength="79" lengthAdjust="spacingAndGlyphs">valine</text>
<text x="475" y="2210" textLength="306" lengthAdjust="spacingAndGlyphs">phosphoenal pyruvate</text>
<text x="801" y="2211" textLength="100" lengthAdjust="spacingAndGlyphs">alanine</text>
<text x="1126" y="2211" textLength="133" lengthAdjust="spacingAndGlyphs">aspartate</text>
<text x="1450" y="2211" textLength="156" lengthAdjust="spacingAndGlyphs">asparagine</text>
<text x="151" y="2329" textLength="140" lengthAdjust="spacingAndGlyphs">isoleucine</text>
<text x="475" y="2329" textLength="118" lengthAdjust="spacingAndGlyphs">pyruvate</text>
<text x="800" y="2329" textLength="176" lengthAdjust="spacingAndGlyphs">oxaloacetate</text>
<text x="1126" y="2329" textLength="94" lengthAdjust="spacingAndGlyphs">malate</text>
<text x="1450" y="2329" textLength="125" lengthAdjust="spacingAndGlyphs">fumarate</text>
<text x="1772" y="2329" textLength="134" lengthAdjust="spacingAndGlyphs">succinate</text>
<text x="151" y="2449" textLength="100" lengthAdjust="spacingAndGlyphs">leucine</text>
<text x="476" y="2449" textLength="152" lengthAdjust="spacingAndGlyphs">acetyl-CoA</text>
<text x="801" y="2449" textLength="89" lengthAdjust="spacingAndGlyphs">citrate</text>
<text x="1126" y="2450" textLength="178" lengthAdjust="spacingAndGlyphs">cis-aconitate</text>
<text x="1450" y="2450" textLength="131" lengthAdjust="spacingAndGlyphs">isocitrate</text>
<text x="1772" y="2450" textLength="199" lengthAdjust="spacingAndGlyphs">2-oxoglutarate</text>
</g>
</svg>
</body></html>
